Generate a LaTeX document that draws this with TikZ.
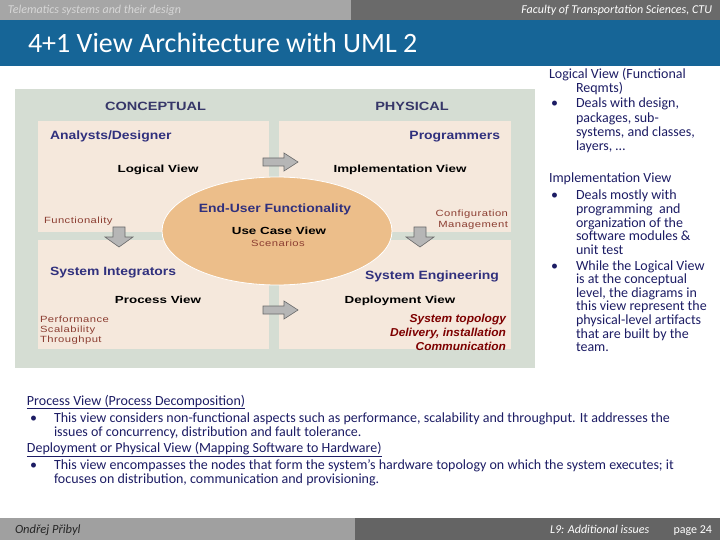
\documentclass[tikz,border=0pt]{standalone}
\usepackage{fontspec}
\setmainfont{Carlito}
\newfontfamily\arialf{Liberation Sans}
\usetikzlibrary{shapes.geometric}
\definecolor{hdrlight}{RGB}{166,166,166}
\definecolor{hdrdark}{RGB}{106,106,106}
\definecolor{hdrtxt}{RGB}{215,215,215}
\definecolor{titleblue}{RGB}{22,101,151}
\definecolor{outerbox}{RGB}{213,221,211}
\definecolor{panelfill}{RGB}{245,232,220}
\definecolor{ellfill}{RGB}{236,190,138}
\definecolor{arrfill}{RGB}{182,182,182}
\definecolor{arrline}{RGB}{105,105,105}
\definecolor{rolenavy}{RGB}{48,48,125}
\definecolor{capnavy}{RGB}{55,55,105}
\definecolor{lblbrown}{RGB}{140,62,50}
\definecolor{darkred}{RGB}{125,0,0}
\definecolor{txtnavy}{RGB}{28,28,100}
\definecolor{footlight}{RGB}{160,160,160}
\definecolor{footdark}{RGB}{100,100,100}
\begin{document}
\begin{tikzpicture}[x=1pt,y=-1pt,
  every node/.style={inner sep=0pt,outer sep=0pt},
  hdr/.style={font=\fontsize{12}{13}\selectfont\itshape},
  capl/.style={anchor=base,text=capnavy,font=\arialf\fontsize{12}{13}\selectfont\bfseries\addfontfeature{FakeStretch=1.21}},
  role/.style={text=rolenavy,font=\arialf\fontsize{12}{14}\selectfont\bfseries\addfontfeature{FakeStretch=1.16}},
  vname/.style={anchor=base,text=black,font=\arialf\fontsize{10.3}{11}\selectfont\bfseries\addfontfeature{FakeStretch=1.3}},
  smalllbl/.style={text=lblbrown,font=\arialf\fontsize{9}{10}\selectfont\addfontfeature{FakeStretch=1.25,LetterSpace=5}},
  redlbl/.style={anchor=base east,text=darkred,font=\arialf\fontsize{11.5}{12}\selectfont\bfseries\itshape\addfontfeature{FakeStretch=1.04}},
  rtxt/.style={anchor=base west,text=txtnavy,font=\fontsize{14}{15}\selectfont},
  fatarrow/.style={fill=arrfill,draw=arrline,line width=0.6pt,line join=miter}
]
\useasboundingbox (0,0) rectangle (720,540);
% header
\fill[hdrlight] (0,0) rectangle (351,20);
\fill[hdrdark] (351,0) rectangle (720,20);
\node[hdr,anchor=base west,text=hdrtxt] (hl) at (8,14) {Telematics systems and their design};
\node[hdr,anchor=base east,text=white] (hr) at (712,14) {Faculty of Transportation Sciences, CTU};
% title bar
\fill[titleblue] (0,20) rectangle (720,66);
\node[anchor=base west,text=white,font=\fontsize{28}{32}\selectfont] (title) at (28,53) {4+1 View Architecture with UML 2};
% diagram
\fill[outerbox] (15,89) rectangle (535,368);
\fill[panelfill] (38,121) rectangle (269,232);
\fill[panelfill] (279,121) rectangle (511,232);
\fill[panelfill] (38,240) rectangle (269,349);
\fill[panelfill] (279,240) rectangle (511,349);
\node[capl] (conc) at (155.5,110.5) {CONCEPTUAL};
\node[capl] (phys) at (412,110.5) {PHYSICAL};
\node[role,anchor=base west] (analysts) at (50,139.5) {Analysts/Designer};
\node[role,anchor=base east] (progr) at (500,139.5) {Programmers};
\node[vname] (logical) at (158,173) {Logical View};
\node[vname] (impl) at (400,173) {Implementation View};
\node[smalllbl,anchor=base west] (func) at (44,223) {Functionality};
\node[smalllbl,anchor=base east] (conf1) at (508,217) {Configuration};
\node[smalllbl,anchor=base east] (conf2) at (508,228) {Management};
% arrows
\draw[fatarrow] (263,158) -- (284,158) -- (284,153) -- (298,162) -- (284,171) -- (284,166) -- (263,166) -- cycle;
\draw[fatarrow] (263,306) -- (284,306) -- (284,301) -- (298,310) -- (284,319) -- (284,314) -- (263,314) -- cycle;
\draw[fatarrow] (113,227) -- (125,227) -- (125,237) -- (133,237) -- (119,247) -- (105,237) -- (113,237) -- cycle;
\draw[fatarrow] (414,227) -- (426,227) -- (426,237) -- (434,237) -- (420,247) -- (406,237) -- (414,237) -- cycle;
% use case ellipse
\node[ellipse,fill=ellfill,draw=white,line width=0.8pt,minimum width=230pt,minimum height=108pt] (uc) at (277,231) {};
\node[role,anchor=base] (enduser) at (275,212.5) {End-User Functionality};
\node[vname] (ucv) at (279,234) {Use Case View};
\node[smalllbl,anchor=base] (scen) at (278,246.5) {Scenarios};
\node[role,anchor=base west] (sysint) at (50,275.5) {System Integrators};
\node[role,anchor=base east] (syseng) at (499,279.5) {System Engineering};
\node[vname] (procv) at (158,303) {Process View};
\node[vname] (depv) at (400,303) {Deployment View};
\node[smalllbl,anchor=base west] (perf) at (40,322) {Performance};
\node[smalllbl,anchor=base west] (scal) at (40,332) {Scalability};
\node[smalllbl,anchor=base west] (thru) at (40,342.5) {Throughput};
\node[redlbl] (topo) at (506,322) {System topology};
\node[redlbl] (deliv) at (506,336) {Delivery, installation};
\node[redlbl] (comm) at (506,350.5) {Communication};
% right column
\node[rtxt] (lvh1) at (549,79) {Logical View (Functional};
\node[rtxt] (lvh2) at (576,93) {Reqmts)};
\node[rtxt] (b1) at (551,108) {•};
\foreach \t [count=\i] in {{Deals with design,},{packages, sub-},{systems, and classes,},{layers, …}}
  \node[rtxt] (lv\i) at (576,{108+(\i-1)*14.1}) {\t};
\node[rtxt] (ivh) at (549,183) {Implementation View};
\node[rtxt] (b2) at (551,200) {•};
\foreach \t [count=\i] in {{Deals mostly with},{programming\ \ and},{organization of the},{software modules \&},{unit test}}
  \node[rtxt] (iva\i) at (576,{200+(\i-1)*13.6}) {\t};
\node[rtxt] (b3) at (551,270) {•};
\foreach \t [count=\i] in {{While the Logical View},{is at the conceptual},{level, the diagrams in},{this view represent the},{physical-level artifacts},{that are built by the},{team.}}
  \node[rtxt] (ivb\i) at (576,{270+(\i-1)*13.6}) {\t};
% bottom text
\node[rtxt] (pvh) at (27,405) {\underline{Process View (Process Decomposition)}};
\node[rtxt] (b4) at (30,422) {•};
\node[rtxt] (pv1) at (54,422) {This view considers non-functional aspects such as performance, scalability and throughput. It addresses the};
\node[rtxt] (pv2) at (54,436) {issues of concurrency, distribution and fault tolerance.};
\node[rtxt] (dvh) at (27,452) {\underline{Deployment or Physical View (Mapping Software to Hardware)}};
\node[rtxt] (b5) at (30,469) {•};
\node[rtxt] (dv1) at (54,469) {This view encompasses the nodes that form the system’s hardware topology on which the system executes; it};
\node[rtxt] (dv2) at (54,483) {focuses on distribution, communication and provisioning.};
% footer
\fill[footlight] (0,518) rectangle (355,540);
\fill[footdark] (355,518) rectangle (720,540);
\node[hdr,anchor=base west,text=black!85,font=\fontsize{12.5}{13}\selectfont\itshape] (author) at (15,533) {Ondřej Přibyl};
\node[hdr,anchor=base west,text=white] (lect) at (550,533) {L9: Additional issues};
\node[anchor=base east,text=white,font=\fontsize{12}{13}\selectfont] (page) at (712,533) {page 24};
\end{tikzpicture}
\end{document}
